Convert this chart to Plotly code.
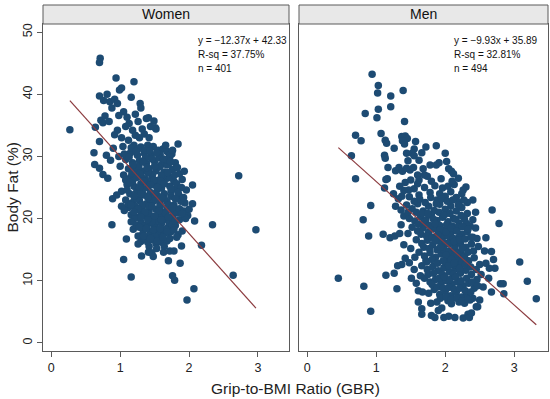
import plotly.graph_objects as go

# ---------------- data ----------------
women_gbr = [
    0.71, 0.70, 0.94, 1.20, 0.70, 0.81, 0.99, 1.02, 1.16, 1.29,
    1.30, 0.27, 0.64, 0.72, 0.76, 0.85, 0.92, 0.88, 0.96, 0.78,
    0.75, 0.84, 0.98, 1.05, 1.10, 1.13, 1.08, 0.96, 0.92, 1.02,
    1.38, 1.49, 1.52, 1.22, 1.26, 1.18, 1.35, 1.28, 0.70, 0.62,
    0.80, 0.63, 0.70, 0.75, 0.82, 0.86, 0.90, 0.98, 1.04, 1.12,
    1.20, 1.30, 1.40, 1.48, 1.55, 1.62, 1.68, 1.75, 1.84, 1.15,
    1.25, 1.35, 1.45, 1.58, 1.72, 1.08, 1.18, 1.28, 1.38, 1.50,
    1.60, 1.70, 1.80, 1.00, 1.12, 1.22, 1.32, 1.42, 1.52, 1.64,
    1.76, 1.86, 1.93, 1.05, 1.15, 1.26, 1.36, 1.46, 1.56, 1.68,
    1.78, 1.90, 2.05, 1.10, 1.20, 1.30, 1.40, 1.50, 1.60, 1.72,
    1.82, 1.96, 1.02, 1.14, 1.24, 1.34, 1.44, 1.54, 1.64, 1.74,
    1.85, 0.89, 0.95, 1.08, 1.18, 1.28, 1.38, 1.48, 1.58, 1.68,
    1.78, 1.94, 2.05, 1.12, 1.22, 1.32, 1.42, 1.52, 1.62, 1.72,
    1.82, 1.92, 1.98, 1.06, 1.16, 1.26, 1.36, 1.46, 1.56, 1.66,
    1.76, 1.86, 2.08, 0.88, 1.30, 1.40, 1.50, 1.60, 1.70, 1.80,
    1.34, 1.44, 1.54, 1.64, 1.74, 1.84, 1.19, 1.38, 1.48, 1.58,
    1.30, 1.52, 1.09, 1.26, 1.42, 1.89, 2.18, 2.34, 2.72, 2.97,
    1.41, 1.51, 1.72, 1.68,
    1.05, 1.16, 1.31, 1.70, 1.87, 1.76, 1.79, 1.97, 2.07, 2.64,
    1.63, 1.72, 1.78, 1.46, 1.48, 1.41, 1.53, 1.60, 1.68, 1.35,
    1.17, 1.27, 1.37, 1.47, 1.57, 1.67, 1.24, 1.34, 1.44, 1.54,
    1.64, 1.74, 1.21, 1.31, 1.41, 1.51, 1.61, 1.71, 1.36, 1.46,
    1.56, 1.66, 1.76, 1.43, 1.33, 1.23, 1.28, 1.38, 1.48, 1.58,
    1.18, 1.08, 1.12, 1.02, 1.16, 1.26, 1.58, 1.68, 1.78, 1.88,
    1.46, 1.56, 1.36, 1.26, 1.16, 1.06, 1.22, 1.32, 1.42, 1.44,
    1.62, 1.72, 1.82, 1.52, 1.42, 1.32, 1.22, 1.92, 1.66, 1.76,
    1.64, 1.50, 1.40, 1.90, 1.95, 2.00, 1.30, 1.40, 1.50, 1.60,
    1.13, 1.23, 1.33, 1.43, 1.53, 1.63, 1.73, 1.83, 1.19, 1.29,
    1.39, 1.49, 1.59, 1.69, 1.79, 1.89, 1.14, 1.24, 1.34, 1.44,
    1.54, 1.64, 1.74, 1.84, 1.10, 1.20, 1.30, 1.40, 1.50, 1.60,
    1.70, 1.80, 1.16, 1.26, 1.36, 1.46, 1.56, 1.66, 1.76, 1.86,
    1.20, 1.30, 1.40, 1.50, 1.60, 1.70, 1.80, 1.90, 1.28, 1.38,
    1.48, 1.58, 1.68, 1.78, 1.34, 1.44, 1.54, 1.62, 1.72, 1.82,
]
women_fat = [
    45.8, 45.1, 42.6, 42.0, 39.7, 40.0, 40.7, 41.0, 39.5, 38.5,
    37.8, 34.3, 34.7, 35.8, 39.0, 38.8, 39.2, 37.8, 38.5, 36.5,
    35.4, 35.6, 36.6, 37.2, 36.3, 35.3, 34.8, 34.2, 33.5, 33.0,
    36.1, 35.7, 34.4, 36.8, 35.6, 34.2, 33.6, 33.0, 32.4, 30.6,
    30.2, 28.7, 28.1, 27.1, 26.5, 29.4, 31.3, 30.0, 31.6, 32.6,
    31.8, 31.5, 31.8, 31.6, 31.0, 31.2, 30.8, 30.4, 32.0, 30.6,
    30.2, 30.5, 30.1, 30.3, 30.0, 29.5, 29.0, 29.3, 28.9, 29.2,
    28.7, 28.8, 29.0, 28.4, 28.0, 27.8, 27.6, 28.0, 27.7, 27.5,
    27.9, 27.2, 27.6, 27.0, 26.6, 26.8, 26.4, 26.7, 26.2, 26.5,
    26.0, 26.3, 25.4, 25.5, 25.2, 25.6, 25.0, 25.4, 24.9, 25.2,
    24.8, 24.6, 24.4, 24.0, 24.3, 23.8, 24.2, 23.7, 24.0, 23.6,
    23.8, 23.2, 23.8, 23.0, 22.6, 22.9, 22.4, 22.8, 22.3, 22.7,
    22.2, 22.5, 22.4, 21.8, 21.4, 21.7, 21.2, 21.5, 21.0, 21.4,
    20.9, 21.2, 20.5, 21.3, 20.6, 20.2, 20.5, 20.0, 20.4, 19.9,
    20.2, 19.8, 19.6, 19.0, 19.4, 19.1, 18.8, 19.2, 18.6, 18.9,
    18.2, 17.8, 18.1, 17.6, 17.9, 17.4, 18.3, 17.0, 16.6, 16.9,
    16.3, 16.0, 16.7, 15.9, 15.5, 15.6, 15.7, 19.0, 26.9, 18.2,
    36.2, 34.6, 30.2, 28.6,
    13.4, 10.6, 14.0, 13.2, 12.8, 10.8, 10.1, 6.9, 8.7, 10.9,
    14.6, 14.8, 14.8, 14.5, 13.9, 14.6, 15.2, 16.2, 16.4, 16.8,
    27.3, 28.4, 29.8, 27.1, 28.3, 29.5, 23.2, 24.8, 23.1, 24.7,
    23.2, 24.4, 20.0, 21.0, 20.7, 19.6, 20.6, 19.3, 18.9, 19.5,
    17.3, 18.3, 19.0, 17.3, 17.6, 18.9, 25.0, 26.0, 25.9, 25.6,
    26.0, 26.2, 22.4, 22.0, 19.5, 17.2, 22.0, 21.8, 21.0, 22.8,
    29.6, 29.8, 31.0, 31.2, 31.4, 30.4, 33.4, 34.4, 33.0, 34.8,
    26.9, 26.6, 25.6, 23.0, 22.0, 22.2, 22.0, 23.4, 31.8, 31.0,
    15.5, 17.2, 16.2, 18.0, 20.0, 21.5, 27.0, 27.4, 28.4, 27.0,
    29.9, 30.8, 29.1, 30.9, 30.6, 29.6, 29.2, 28.2, 28.6, 27.2,
    28.2, 26.2, 26.0, 27.4, 27.0, 25.0, 25.8, 26.6, 26.0, 25.4,
    25.0, 25.6, 24.8, 24.2, 24.6, 23.6, 24.0, 23.4, 24.0, 23.4,
    22.2, 23.2, 22.2, 21.6, 21.0, 22.0, 21.2, 20.8, 21.8, 21.6,
    21.0, 20.2, 19.8, 20.4, 19.8, 20.2, 19.6, 20.8, 18.6, 18.4,
    18.2, 18.4, 17.8, 18.2, 17.2, 16.8, 16.4, 17.0, 16.8, 17.0,
]

men_gbr = [
    0.94, 1.03, 1.02, 1.21, 1.39, 1.03, 1.21, 0.84, 1.01, 1.41,
    0.70, 0.78, 0.64, 0.70, 1.07, 1.13, 1.15, 1.12, 1.13, 1.17,
    1.16, 1.26, 1.37, 1.42, 1.45, 1.38, 1.41, 1.57, 1.55, 1.52,
    1.55, 1.44, 1.72, 1.28, 1.33, 1.38, 1.44, 1.49, 1.54, 1.12,
    1.14, 1.87, 2.00, 1.91, 1.78, 1.87, 2.02, 2.05, 2.09, 2.12,
    2.19, 2.13, 2.30, 1.96, 1.46, 1.62, 1.68, 1.60, 1.74, 1.66,
    0.92, 0.81, 0.89, 1.10, 1.20, 1.27, 1.34, 1.46, 1.42, 1.31,
    1.37, 1.14, 1.26, 1.51, 0.45, 0.82, 1.30, 0.92, 1.61, 1.67,
    1.61, 1.66, 1.66, 1.79, 1.48, 1.55, 1.58, 1.40, 1.50, 1.36,
    2.40, 2.68, 2.78, 2.59, 2.67, 3.08, 2.70, 2.72, 3.19, 2.80,
    2.84, 2.85, 3.32, 2.44, 2.40, 2.44, 2.57, 2.59, 2.64, 2.63,
    2.67, 2.50, 2.45, 2.14, 2.26, 2.33, 1.80, 1.90, 1.85, 1.98,
    2.05, 2.35, 2.38, 1.95, 2.09, 2.28, 2.47, 2.55, 2.52, 2.48,
    1.25, 1.32, 1.40, 1.48, 1.55, 1.62, 1.70, 1.78, 1.85, 1.92,
    2.00, 2.08, 2.16, 2.24, 2.32, 1.28, 1.36, 1.44, 1.52, 1.60,
    1.68, 1.76, 1.84, 1.92, 2.00, 2.08, 2.16, 2.24, 2.32, 1.40,
    1.48, 1.56, 1.64, 1.72, 1.80, 1.88, 1.96, 2.04, 2.12, 2.20,
    2.28, 2.36, 1.52, 1.60, 1.68, 1.76, 1.84, 1.92, 2.00, 2.08,
    2.16, 2.24, 2.32, 2.40, 1.58, 1.66, 1.74, 1.82, 1.90, 1.98,
    2.06, 2.14, 2.22, 2.30, 2.38, 2.46, 1.62, 1.70, 1.78, 1.86,
    1.94, 2.02, 2.10, 2.18, 2.26, 2.34, 2.42, 2.50, 1.66, 1.74,
    1.82, 1.90, 1.98, 2.06, 2.14, 2.22, 2.30, 2.38, 2.46, 1.70,
    1.78, 1.86, 1.94, 2.02, 2.10, 2.18, 2.26, 2.34, 2.42, 1.76,
    1.84, 1.92, 2.00, 2.08, 2.16, 2.24, 2.32, 2.40, 1.88, 2.04,
    2.20, 2.36, 1.72, 1.56, 1.64,
    1.96, 2.04, 2.12, 2.20, 1.98, 2.06, 2.14, 2.22, 2.00, 2.08,
    2.16, 2.24, 1.92, 2.02, 2.10, 2.18, 1.88, 2.28, 2.12, 1.96,
    1.60, 1.50, 1.42, 1.34, 1.58, 1.46, 1.88, 2.04, 2.20, 1.80,
    1.63, 1.71, 1.79, 1.87, 1.95, 2.03, 2.11, 2.19, 2.27, 1.67,
    1.75, 1.83, 1.91, 1.99, 2.07, 2.15, 2.23, 2.31, 1.61, 1.69,
    1.77, 1.85, 1.93, 2.01, 2.09, 2.17, 2.25, 2.33, 1.65, 1.73,
    1.81, 1.89, 1.97, 2.05, 2.13, 2.21, 2.29, 2.37, 1.69, 1.77,
    1.85, 1.93, 2.01, 2.09, 2.17, 2.25, 2.33, 2.41, 1.73, 1.81,
    1.89, 1.97, 2.05, 2.13, 2.21, 2.29, 2.37, 2.45, 1.75, 1.83,
    1.91, 1.99, 2.07, 2.15, 2.23, 2.31, 2.39, 2.47, 1.81, 1.89,
    1.97, 2.05, 2.13, 2.21, 2.29, 2.37, 1.93, 2.01, 2.09, 2.17,
    2.25, 2.33, 1.55, 1.47, 1.37, 1.62, 1.70, 1.94, 2.10, 2.26,
]
men_fat = [
    43.2, 41.4, 40.2, 39.7, 40.6, 37.6, 38.0, 36.9, 36.2, 35.6,
    33.4, 32.5, 30.1, 26.4, 33.7, 32.6, 32.1, 30.2, 29.7, 28.2,
    26.4, 31.3, 33.2, 33.3, 32.9, 32.5, 32.0, 32.4, 31.2, 30.5,
    30.1, 30.5, 31.5, 27.7, 28.2, 27.6, 28.1, 27.8, 28.2, 24.9,
    26.3, 31.7, 30.5, 29.0, 28.6, 28.6, 29.2, 28.0, 27.6, 27.2,
    26.5, 25.5, 25.1, 24.9, 29.3, 29.4, 28.0, 27.0, 26.8, 30.6,
    22.1, 19.8, 17.2, 17.5, 16.9, 17.2, 17.6, 17.6, 13.6, 12.4,
    12.6, 10.9, 11.2, 10.4, 10.4, 9.1, 8.7, 5.1, 8.4, 8.2,
    6.6, 5.5, 4.6, 6.4, 12.9, 11.8, 9.6, 15.8, 15.2, 19.0,
    23.0, 21.4, 19.2, 16.9, 14.7, 13.0, 13.4, 12.0, 9.9, 9.5,
    9.5, 7.9, 7.1, 21.0, 19.8, 18.5, 14.8, 12.8, 12.0, 10.4,
    8.2, 6.9, 5.8, 4.1, 4.0, 4.6, 4.4, 5.2, 4.1, 4.1,
    4.3, 4.1, 4.8, 5.6, 6.3, 6.4, 5.8, 9.0, 11.0, 15.5,
    24.0, 23.2, 24.5, 23.5, 24.8, 23.8, 25.0, 24.2, 25.3, 24.0,
    23.6, 24.3, 23.4, 24.0, 22.6, 22.0, 21.4, 22.2, 21.6, 22.4,
    21.2, 22.0, 21.3, 22.3, 21.5, 22.0, 21.2, 21.8, 20.8, 20.4,
    20.0, 19.6, 20.3, 19.8, 20.5, 19.7, 20.2, 19.5, 20.0, 19.3,
    19.9, 18.8, 18.6, 18.0, 18.5, 17.8, 18.4, 17.7, 18.2, 17.6,
    18.1, 17.5, 17.9, 17.0, 16.6, 16.0, 16.5, 15.8, 16.4, 15.7,
    16.2, 15.5, 16.0, 15.4, 15.9, 16.8, 14.6, 14.0, 14.5, 13.8,
    14.3, 13.6, 14.1, 13.4, 13.9, 13.2, 13.7, 12.6, 12.4, 11.8,
    12.3, 11.6, 12.1, 11.4, 11.9, 11.2, 11.7, 11.0, 10.2, 10.4,
    9.8, 10.2, 9.6, 10.0, 9.4, 9.8, 9.2, 9.6, 8.8, 8.0,
    8.6, 7.8, 8.3, 7.6, 8.1, 7.4, 7.9, 7.2, 6.6, 6.8,
    6.6, 6.9, 13.2, 13.8, 10.8,
    17.0, 17.2, 16.8, 17.0, 15.0, 14.8, 15.2, 14.6, 13.0, 12.8,
    12.5, 12.9, 18.9, 19.0, 18.8, 18.6, 15.0, 14.0, 11.0, 11.0,
    25.6, 26.2, 25.8, 25.2, 21.0, 21.0, 23.0, 25.2, 22.6, 26.0,
    23.1, 22.6, 23.4, 22.4, 23.2, 22.8, 23.0, 22.2, 23.0, 20.9,
    20.8, 19.9, 21.0, 20.6, 20.8, 19.9, 20.5, 19.2, 19.1, 19.4,
    18.9, 19.2, 18.2, 17.9, 18.5, 18.0, 18.7, 18.3, 17.5, 17.2,
    17.0, 17.4, 16.2, 15.9, 16.3, 16.6, 16.7, 17.0, 15.4, 15.2,
    16.5, 15.4, 14.2, 13.4, 14.4, 15.2, 14.6, 14.8, 13.0, 13.4,
    12.8, 13.2, 12.4, 12.9, 12.0, 12.6, 12.2, 11.8, 11.0, 11.2,
    10.4, 10.6, 10.2, 10.6, 10.0, 10.4, 9.8, 9.2, 9.4, 9.0,
    8.8, 8.9, 8.6, 8.8, 8.4, 8.2, 7.2, 7.4, 7.0, 7.2,
    6.8, 7.0, 22.8, 24.6, 23.6, 26.2, 27.0, 26.4, 26.0, 24.6,
]

panels = ["Women", "Men"]
slopes = [-12.37, -9.93]
intercepts = [42.33, 35.89]
rsq = [37.75, 32.81]
n_obs = [401, 494]

x_ticks = [0, 1, 2, 3]
y_ticks = [0, 10, 20, 30, 40, 50]

# ---------------- figure ----------------
W, H = 550, 399
DOT = "#1d4b73"
LINE = "#8c3b3f"
FRAME = "#5a5a5a"
FONT = "Liberation Sans, Arial, Helvetica, sans-serif"

def px_x(p):
    return p / W

def px_y(p):
    return 1 - p / H

dom_left = [px_x(43), px_x(289)]
dom_right = [px_x(299), px_x(548)]
dom_y = [px_y(351), px_y(24)]

fig = go.Figure()

data = [(women_gbr, women_fat), (men_gbr, men_fat)]
for i, (xs, ys) in enumerate(data):
    xa = "x" if i == 0 else "x2"
    ya = "y" if i == 0 else "y2"
    fig.add_trace(go.Scatter(
        x=xs, y=ys, mode="markers", xaxis=xa, yaxis=ya,
        marker=dict(size=7.5, color=DOT, line=dict(width=0)),
        showlegend=False, hoverinfo="skip"))
    x0, x1 = min(xs), max(xs)
    fig.add_trace(go.Scatter(
        x=[x0, x1],
        y=[intercepts[i] + slopes[i] * x0, intercepts[i] + slopes[i] * x1],
        mode="lines", xaxis=xa, yaxis=ya,
        line=dict(color=LINE, width=1.2),
        showlegend=False, hoverinfo="skip"))

axis_common = dict(
    showgrid=False, zeroline=False, showline=True, linecolor=FRAME,
    linewidth=1, mirror=True, ticks="outside", ticklen=5, tickwidth=1,
    tickcolor=FRAME, tickfont=dict(family=FONT, size=12.5, color="#222"),
)

fig.update_layout(
    width=W, height=H,
    margin=dict(l=0, r=0, t=0, b=0),
    paper_bgcolor="white", plot_bgcolor="white",
    font=dict(family=FONT, color="#222"),
    xaxis=dict(domain=dom_left, range=[-0.12, 3.45], tickvals=x_ticks,
               anchor="y", **axis_common),
    xaxis2=dict(domain=dom_right, range=[-0.12, 3.49], tickvals=x_ticks,
                anchor="y2", **axis_common),
    yaxis=dict(domain=dom_y, range=[-1.3, 51.3], tickvals=y_ticks,
               tickangle=-90, anchor="x", **axis_common),
    yaxis2=dict(domain=dom_y, range=[-1.3, 51.3], tickvals=y_ticks,
                showticklabels=False, ticks="", anchor="x2",
                **{k: v for k, v in axis_common.items() if k not in ("ticks",)}),
)

# strip headers
strip_y0, strip_y1 = px_y(24), px_y(5)
for i, dom in enumerate([dom_left, dom_right]):
    fig.add_shape(type="rect", xref="paper", yref="paper",
                  x0=dom[0], x1=dom[1], y0=strip_y0, y1=strip_y1,
                  fillcolor="#e8e8e8", line=dict(color=FRAME, width=1))
    fig.add_annotation(xref="paper", yref="paper",
                       x=(dom[0] + dom[1]) / 2, y=(strip_y0 + strip_y1) / 2,
                       text=panels[i], showarrow=False,
                       font=dict(family=FONT, size=14, color="#111"),
                       xanchor="center", yanchor="middle")

# regression text
text_x = [px_x(196), px_x(452)]
for i in range(2):
    lines = [f"y = \u2212{abs(slopes[i]):.2f}x + {intercepts[i]:.2f}",
             f"R-sq = {rsq[i]:.2f}%",
             f"n = {n_obs[i]}"]
    for j, t in enumerate(lines):
        fig.add_annotation(xref="paper", yref="paper",
                           x=text_x[i], y=px_y(40 + 14 * j), text=t,
                           showarrow=False, xanchor="left", yanchor="middle",
                           font=dict(family=FONT, size=10, color="#111"))

# axis titles
fig.add_annotation(xref="paper", yref="paper", x=px_x(12), y=(dom_y[0] + dom_y[1]) / 2,
                   text="Body Fat (%)", textangle=-90, showarrow=False,
                   xanchor="center", yanchor="middle",
                   font=dict(family=FONT, size=15.5, color="#222"))
fig.add_annotation(xref="paper", yref="paper", x=px_x(295), y=px_y(388),
                   text="Grip-to-BMI Ratio (GBR)", showarrow=False,
                   xanchor="center", yanchor="middle",
                   font=dict(family=FONT, size=15.5, color="#222"))

fig.write_html(
    "out.html",
    config={"displayModeBar": False},
    post_script="document.body.style.margin='0';document.body.style.overflow='hidden';",
)
